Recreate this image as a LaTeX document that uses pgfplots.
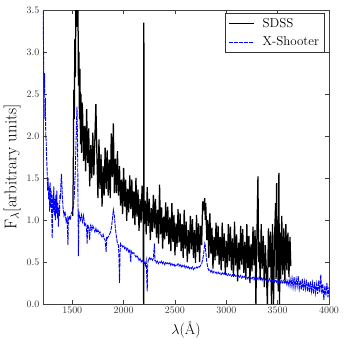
\documentclass[border=0pt]{standalone}
\usepackage{pgfplots}
\pgfplotsset{compat=1.18}

\begin{document}
\begin{tikzpicture}
\begin{axis}[
    name=ax,
    scale only axis,
    width=286bp, height=294bp,
    xmin=1215, xmax=4000,
    ymin=0, ymax=3.5,
    xtick={1500,2000,2500,3000,3500,4000},
    ytick={0,0.5,1,1.5,2,2.5,3,3.5},
    yticklabel style={/pgf/number format/.cd, fixed, fixed zerofill, precision=1},
    xticklabel style={/pgf/number format/.cd, set thousands separator={}},
    tick align=inside,
    major tick length=4bp,
    axis line style={black!75},
    every tick/.style={black!75},
    ticklabel style={font=\fontsize{10}{12}\selectfont, black!80},
    xlabel={$\lambda$(\AA)},
    ylabel={F$_\lambda$[arbitrary units]},
    xlabel style={font=\fontsize{15}{18}\selectfont, at={(axis description cs:0.5,-0.088)}, anchor=center},
    ylabel style={font=\fontsize{17}{20}\selectfont, at={(axis description cs:-0.108,0.466)}, anchor=center},
    legend style={at={(0.983,0.99)}, anchor=north east, font=\fontsize{13}{15}\selectfont,
        draw=black!80, row sep=4bp, inner sep=3bp},
    legend cell align=left,
    legend image code/.code={\draw[#1, line width=0.6bp] (0bp,0bp) -- (25bp,0bp); \path (31bp,0bp);},
]
% SDSS spectrum
\addplot[black, line width=1.25bp] coordinates {
(1505,1.05) (1510,1.6) (1515,2.55) (1520,2.2) (1525,3.15) (1530,2.7) (1535,3.6) (1540,3.3)
(1545,3.8) (1550,3.6) (1555,3.7) (1560,2.6) (1565,3.0) (1570,2.2) (1575,2.8) (1580,1.9)
(1585,2.5) (1590,1.8) (1595,2.4)
(1600,2.32) (1610,1.70) (1620,2.12) (1630,1.58) (1640,2.32) (1650,1.68) (1660,2.09) (1670,1.40)
(1680,1.89) (1690,1.50) (1700,2.04) (1710,1.53) (1720,1.96) (1730,2.38) (1740,1.77) (1750,1.26)
(1760,1.96) (1770,1.37) (1780,1.78) (1790,1.16) (1800,1.64) (1810,1.29) (1820,1.86) (1830,1.37)
(1840,1.83) (1850,1.29) (1860,1.72) (1870,1.26) (1880,2.03) (1890,1.51) (1900,2.15) (1910,1.32)
(1920,1.73) (1930,1.32) (1940,1.82) (1950,1.29) (1960,1.64) (1970,1.17) (1980,1.48) (1990,1.07)
(2000,1.62) (2010,1.16) (2020,1.48) (2030,0.99) (2040,1.37) (2050,1.09) (2060,1.53) (2070,1.13)
(2080,1.48) (2090,1.02) (2100,1.34) (2110,0.94) (2120,1.50) (2130,1.04) (2140,1.36) (2150,0.87)
(2160,1.25) (2170,0.97) (2180,1.41) (2190,1.01) (2195,0.0) (2197,3.35) (2200,0.95) (2210,1.23)
(2220,0.83) (2230,1.39) (2240,0.93) (2250,1.25) (2260,0.76) (2270,1.14) (2280,0.86) (2290,1.30)
(2300,0.90) (2310,1.25) (2320,0.79) (2330,1.12) (2340,0.72) (2350,1.42) (2360,0.83) (2370,1.15)
(2380,0.66) (2390,1.04) (2400,0.77) (2410,1.21) (2420,0.81) (2430,1.16) (2440,0.71) (2450,1.03)
(2460,0.63) (2470,1.20) (2480,0.74) (2490,1.06) (2500,0.58) (2510,0.96) (2520,0.68) (2530,1.13)
(2540,0.73) (2550,1.08) (2560,0.63) (2570,0.95) (2580,0.55) (2590,1.12) (2600,0.66) (2610,0.98)
(2620,0.50) (2630,0.88) (2640,0.60) (2650,1.05) (2660,0.65) (2670,1.01) (2680,0.55) (2690,0.88)
(2700,0.49) (2710,1.06) (2720,0.62) (2730,0.96) (2740,0.50) (2750,0.93) (2760,0.70) (2770,1.22)
(2780,1.15) (2790,1.26) (2795,1.00) (2800,1.20) (2810,0.76) (2820,1.00) (2830,0.55) (2840,1.08)
(2850,0.60) (2860,0.91) (2870,0.42) (2880,0.80) (2890,0.52) (2900,0.97) (2910,0.57) (2920,0.93)
(2930,0.47) (2940,0.80) (2950,0.40) (2960,0.97) (2970,0.51) (2980,0.84) (2990,0.36) (3000,0.75)
(3010,0.44) (3020,0.95) (3030,0.51) (3040,0.92) (3050,0.40) (3060,0.78) (3070,0.32) (3080,0.98)
(3090,0.46) (3100,0.83) (3110,0.27) (3120,0.73) (3130,0.41) (3140,0.93) (3150,0.47) (3160,0.89)
(3170,0.37) (3180,0.74) (3190,0.29) (3200,0.95) (3210,0.43) (3220,0.81) (3230,0.25) (3240,0.71)
(3250,0.39) (3260,0.92) (3270,0.46) (3280,0.88) (3288,0.0) (3298,0.80) (3308,1.52) (3315,0.50)
(3320,0.74) (3330,0.28) (3340,0.95) (3350,0.42) (3360,0.81) (3370,0.20) (3380,0.70) (3390,0.38)
(3400,0.0) (3410,0.90) (3420,0.44) (3430,0.86) (3440,0.0) (3450,0.95) (3460,0.0) (3470,0.80)
(3480,1.20) (3485,0.30) (3490,1.44) (3495,0.40) (3500,1.00) (3505,0.15) (3512,1.56) (3518,0.0)
(3525,0.85) (3530,0.30) (3540,1.05) (3550,0.35) (3560,0.90) (3570,0.28) (3580,0.95) (3590,0.40)
(3600,0.85) (3610,0.32) (3620,0.80) (3628,0.45)
};
\addlegendentry{SDSS}
% X-Shooter spectrum
\addplot[blue, line width=0.9bp, dash pattern=on 4bp off 1bp] coordinates {
(1215,3.55) (1218,3.3) (1222,2.8) (1226,2.5) (1230,2.75) (1234,2.2) (1238,2.45) (1242,2.0)
(1246,1.95) (1250,1.75) (1255,1.6) (1260,1.35) (1265,1.5) (1270,1.25) (1275,1.40) (1280,1.10)
(1285,1.45) (1290,1.15) (1295,1.35) (1300,1.05) (1305,0.78) (1310,1.30) (1315,1.10) (1320,1.40)
(1325,1.05) (1330,1.25) (1335,1.00) (1340,1.30) (1345,1.08) (1350,1.35) (1355,1.02) (1360,1.20)
(1365,0.92) (1370,1.15) (1375,1.05) (1380,1.30) (1385,1.25) (1390,1.45) (1395,1.55) (1400,1.40)
(1405,1.25) (1410,1.15) (1420,1.05) (1430,1.10) (1440,0.98) (1450,1.02) (1458,0.70) (1462,1.00)
(1470,1.05) (1480,1.00) (1490,1.08) (1500,1.10) (1510,1.15) (1520,1.30) (1530,1.60) (1540,2.10)
(1546,2.35) (1552,1.90) (1556,1.20) (1560,0.57) (1565,1.10) (1570,1.05) (1580,1.00) (1590,1.06)
(1600,0.98) (1610,1.05) (1620,0.94) (1630,0.96) (1640,0.88) (1645,0.72) (1650,0.95) (1660,0.90)
(1670,0.76) (1675,0.92) (1680,0.94) (1690,0.88) (1700,0.93) (1710,0.90) (1720,0.86) (1730,0.90)
(1740,0.85) (1750,0.88) (1760,0.84) (1770,0.86) (1780,0.82) (1790,0.80) (1800,0.83) (1810,0.78)
(1820,0.76) (1830,0.62) (1835,0.80) (1840,0.78) (1850,0.80) (1860,0.82) (1870,0.85) (1880,0.90)
(1890,1.00) (1900,1.12) (1910,1.05) (1920,0.90) (1930,0.80) (1940,0.72) (1950,0.70) (1955,0.55)
(1960,0.25) (1965,0.60) (1970,0.72) (1980,0.70) (1990,0.68) (2000,0.70) (2010,0.66) (2020,0.68)
(2030,0.64) (2040,0.66) (2050,0.62) (2060,0.64) (2070,0.50) (2075,0.63) (2080,0.62) (2090,0.60)
(2100,0.61) (2110,0.58) (2120,0.56) (2130,0.58) (2140,0.55) (2150,0.52) (2160,0.54) (2170,0.50)
(2180,0.52) (2190,0.49) (2200,0.50) (2210,0.46) (2220,0.52) (2230,0.15) (2235,0.48) (2240,0.52)
(2250,0.55) (2260,0.53) (2270,0.55) (2280,0.52) (2290,0.54) (2300,0.72) (2305,0.52) (2310,0.52)
(2320,0.49) (2330,0.51) (2340,0.48) (2350,0.50) (2360,0.49) (2370,0.51) (2380,0.48) (2390,0.50)
(2400,0.47) (2410,0.50) (2420,0.48) (2430,0.49) (2440,0.47) (2450,0.49) (2460,0.46) (2470,0.48)
(2480,0.46) (2490,0.48) (2500,0.45) (2510,0.47) (2520,0.46) (2530,0.48) (2540,0.45) (2550,0.47)
(2560,0.44) (2570,0.46) (2580,0.44) (2590,0.46) (2600,0.43) (2610,0.45) (2620,0.43) (2630,0.45)
(2640,0.42) (2650,0.44) (2660,0.42) (2670,0.44) (2680,0.41) (2690,0.43) (2700,0.42) (2710,0.44)
(2720,0.43) (2730,0.45) (2740,0.44) (2750,0.46) (2760,0.48) (2770,0.53) (2780,0.60) (2790,0.72)
(2795,0.70) (2800,0.62) (2810,0.50) (2820,0.43) (2830,0.40) (2840,0.41) (2850,0.38) (2860,0.40)
(2870,0.37) (2880,0.39) (2890,0.37) (2900,0.38) (2910,0.36) (2920,0.38) (2930,0.36) (2940,0.37)
(2950,0.35) (2960,0.37) (2970,0.35) (2980,0.37) (2990,0.34) (3000,0.36) (3010,0.34) (3020,0.36)
(3030,0.34) (3040,0.35) (3050,0.33) (3060,0.35) (3070,0.33) (3080,0.35) (3090,0.33) (3100,0.34)
(3110,0.32) (3120,0.34) (3130,0.32) (3140,0.34) (3150,0.31) (3160,0.33) (3170,0.31) (3180,0.33)
(3190,0.31) (3200,0.32) (3210,0.30) (3220,0.33) (3230,0.30) (3240,0.32) (3250,0.30) (3260,0.32)
(3270,0.29) (3280,0.32) (3290,0.30) (3300,0.31) (3310,0.29) (3320,0.32) (3330,0.29) (3340,0.31)
(3350,0.28) (3360,0.31) (3370,0.28) (3380,0.30) (3390,0.28) (3400,0.30) (3410,0.27) (3420,0.30)
(3430,0.27) (3440,0.29) (3450,0.27) (3460,0.29) (3470,0.26) (3480,0.29) (3490,0.26) (3500,0.28)
(3510,0.26) (3520,0.29) (3530,0.25) (3540,0.28) (3550,0.25) (3560,0.28) (3570,0.24) (3580,0.29)
(3590,0.23) (3600,0.28) (3610,0.22) (3620,0.30) (3630,0.21) (3640,0.31) (3650,0.20) (3660,0.32)
(3670,0.19) (3680,0.30) (3690,0.21) (3700,0.33) (3710,0.18) (3720,0.28) (3730,0.17) (3740,0.30)
(3750,0.16) (3760,0.27) (3770,0.18) (3780,0.29) (3790,0.15) (3800,0.26) (3810,0.14) (3820,0.27)
(3830,0.15) (3840,0.25) (3850,0.12) (3860,0.26) (3870,0.13) (3880,0.24) (3890,0.12) (3900,0.28)
(3910,0.14) (3920,0.35) (3930,0.12) (3940,0.24) (3950,0.05) (3960,0.22) (3970,0.10) (3980,0.25)
(3990,0.08) (4000,0.20)
};
\addlegendentry{X-Shooter}
\end{axis}
% page margins matching the reference
\path ([xshift=-43bp,yshift=-44bp]ax.south west) rectangle ([xshift=15bp,yshift=10bp]ax.north east);
\end{tikzpicture}
\end{document}
